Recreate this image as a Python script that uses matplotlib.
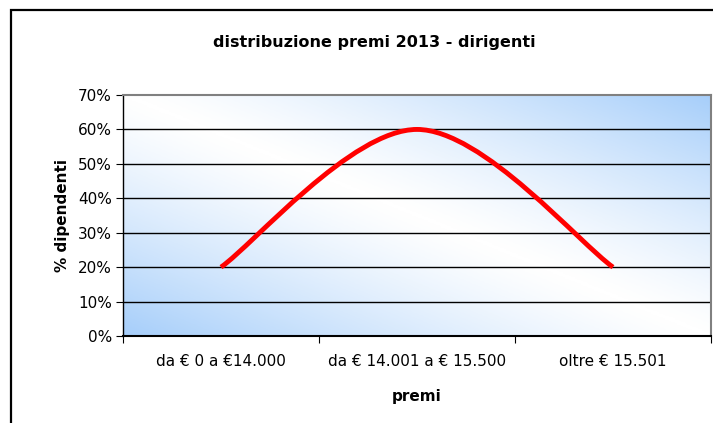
import numpy as np
import matplotlib
matplotlib.use("Agg")
import matplotlib.pyplot as plt
from matplotlib.path import Path
from matplotlib.patches import PathPatch, Rectangle
from matplotlib.colors import LinearSegmentedColormap

# data
categories = ["da € 0 a €14.000", "da € 14.001 a € 15.500", "oltre € 15.501"]
values = [0.20, 0.60, 0.20]
yticks = [0, 0.1, 0.2, 0.3, 0.4, 0.5, 0.6, 0.7]

fig = plt.figure(figsize=(7.13, 4.23), dpi=100)
ax = fig.add_axes([123 / 713, 87 / 423, 588 / 713, 241 / 423])

# chart border (Excel style)
fig.patches.append(Rectangle((11 / 713, -0.1), 1.2, (413 / 423) + 0.1,
                             transform=fig.transFigure, fill=False,
                             ec="black", lw=1.6, zorder=0))

# diagonal gradient background
xx, yy = np.meshgrid(np.linspace(0, 1, 300), np.linspace(0, 1, 200))
t = np.abs(xx + yy - 1) ** 1.25
cmap = LinearSegmentedColormap.from_list("bg", ["#ffffff", "#a6cefa"])
ax.imshow(t, cmap=cmap, extent=[0, 1, 0, 1], origin="lower",
          transform=ax.transAxes, aspect="auto", zorder=0, vmin=0, vmax=1)

ax.set_xlim(0, 3)
ax.set_ylim(0, 0.7)

# gridlines
for y in yticks[1:-1]:
    ax.axhline(y, color="black", lw=1, zorder=1)

# smoothed line (Excel-like bezier)
xs = np.arange(len(values)) + 0.5
pts = np.column_stack([xs, values])
verts = [pts[0]]
codes = [Path.MOVETO]
n = len(pts)
for i in range(n - 1):
    p_prev = pts[max(i - 1, 0)]
    p0 = pts[i]
    p1 = pts[i + 1]
    p_next = pts[min(i + 2, n - 1)]
    c1 = p0 + (p1 - p_prev) / 6
    c2 = p1 - (p_next - p0) / 6
    verts += [c1, c2, p1]
    codes += [Path.CURVE4] * 3
ax.add_patch(PathPatch(Path(verts, codes), fill=False, ec="#ff0000",
                       lw=3.5, capstyle="butt", zorder=3))

# axes styling
for s in ["top", "right"]:
    ax.spines[s].set_color("#808080")
    ax.spines[s].set_linewidth(1.5)
ax.spines["left"].set_color("black")
ax.spines["bottom"].set_color("black")
ax.spines["left"].set_linewidth(1)
ax.spines["bottom"].set_linewidth(1.5)

ax.set_yticks(yticks)
ax.set_yticklabels([f"{int(round(v * 100))}%" for v in yticks])
ax.set_xticks([0, 1, 2, 3])
ax.set_xticklabels([])
ax.set_xticks(xs, minor=True)
ax.set_xticklabels(categories, minor=True)
ax.tick_params(axis="x", which="major", length=5, direction="out", color="black")
ax.tick_params(axis="x", which="minor", length=0, pad=13, labelsize=11)
ax.tick_params(axis="y", length=5, direction="out", labelsize=11, pad=3)

ax.set_xlabel("premi", fontsize=11, fontweight="bold", labelpad=14)
ax.set_ylabel("% dipendenti", fontsize=11, fontweight="bold", labelpad=6)
fig.text(0.525, 1 - 43 / 423, "distribuzione premi 2013 - dirigenti",
         ha="center", va="center", fontsize=11.5, fontweight="bold")

fig.savefig("out.png", dpi=100)
